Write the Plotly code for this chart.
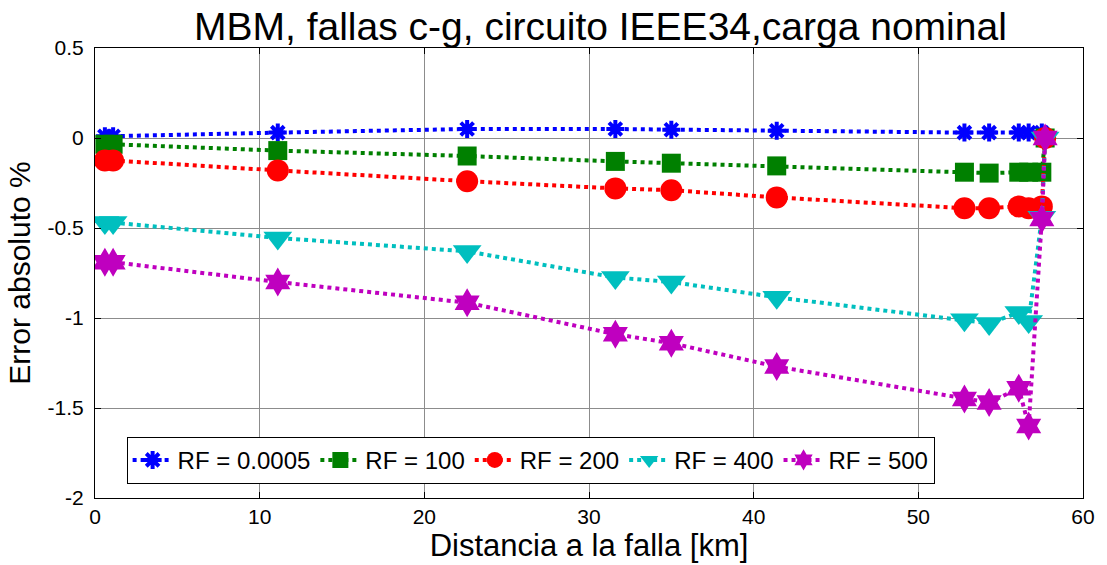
import plotly.graph_objects as go

# Fault distance along the feeder [km]
distancia = [0.6, 1.1, 11.1, 22.6, 31.6, 35.0, 41.4, 52.8, 54.3, 56.1, 56.7, 57.5, 57.7]

# Absolute error [%] for each fault resistance
rf_0005 = [0.01, 0.01, 0.03, 0.05, 0.05, 0.046, 0.04, 0.03, 0.03, 0.03, 0.03, 0.03, 0.0]
rf_100 = [-0.035, -0.035, -0.07, -0.10, -0.13, -0.14, -0.155, -0.19, -0.195, -0.19, -0.19, -0.19, 0.0]
rf_200 = [-0.125, -0.125, -0.18, -0.24, -0.28, -0.29, -0.33, -0.39, -0.39, -0.38, -0.39, -0.38, 0.0]
rf_400 = [-0.47, -0.47, -0.555, -0.63, -0.775, -0.80, -0.885, -1.01, -1.03, -0.97, -1.02, -0.44, 0.0]
rf_500 = [-0.69, -0.69, -0.80, -0.915, -1.09, -1.14, -1.27, -1.45, -1.47, -1.39, -1.60, -0.45, 0.0]

nombres = ["RF = 0.0005", "RF = 100", "RF = 200", "RF = 400", "RF = 500"]
series = [rf_0005, rf_100, rf_200, rf_400, rf_500]

x_ticks = [0, 10, 20, 30, 40, 50, 60]
y_ticks = [0.5, 0, -0.5, -1, -1.5, -2]
y_tick_text = ["0.5", "0", "-0.5", "-1", "-1.5", "-2"]

colores = ["#0000ff", "#008000", "#ff0000", "#00bfbf", "#bf00bf"]
simbolos = ["asterisk-open", "square", "circle", "triangle-down", "hexagram"]
tamanos = [15, 19, 22, 25, 22]

fig = go.Figure()
for nombre, y, c, s, t in zip(nombres, series, colores, simbolos, tamanos):
    fig.add_trace(go.Scatter(
        x=distancia, y=y, name=nombre, mode="lines+markers",
        line=dict(color=c, width=4, dash="4px,4px"),
        marker=dict(symbol=s, size=t, color=c,
                    line=dict(color=c, width=4 if s == "asterisk-open" else 0)),
    ))

eje = dict(
    showline=True, linecolor="black", linewidth=1, mirror="ticks",
    ticks="inside", ticklen=6, tickcolor="black",
    showgrid=True, gridcolor="#8c8c8c", gridwidth=1,
    zeroline=False,
    tickfont=dict(family="Liberation Sans, Arial", size=21, color="black"),
)

fig.update_layout(
    width=1107, height=565,
    margin=dict(l=95, r=20, t=48, b=67),
    paper_bgcolor="white", plot_bgcolor="white",
    font=dict(family="Liberation Sans, Arial", color="black"),
    showlegend=True,
    legend=dict(
        orientation="h", x=0.032, y=0.136, xanchor="left", yanchor="top",
        bordercolor="black", borderwidth=1, bgcolor="white",
        font=dict(size=24, color="black"), itemwidth=40,
        tracegroupgap=0,
    ),
    annotations=[dict(
        text="MBM, fallas c-g, circuito IEEE34,carga nominal",
        xref="paper", yref="paper", x=0.512, y=1, xanchor="center", yanchor="bottom",
        yshift=-2, showarrow=False,
        font=dict(family="Liberation Sans, Arial", size=39, color="black"),
    )],
)

fig.update_xaxes(
    range=[0, 60], tickvals=x_ticks,
    title=dict(text="Distancia a la falla [km]", font=dict(size=31), standoff=2),
    **eje,
)
fig.update_yaxes(
    range=[-2, 0.5], tickvals=y_ticks, ticktext=y_tick_text,
    ticklabelstandoff=6,
    title=dict(text="Error absoluto %", font=dict(size=30), standoff=8),
    **eje,
)

fig.write_html("out.html")
